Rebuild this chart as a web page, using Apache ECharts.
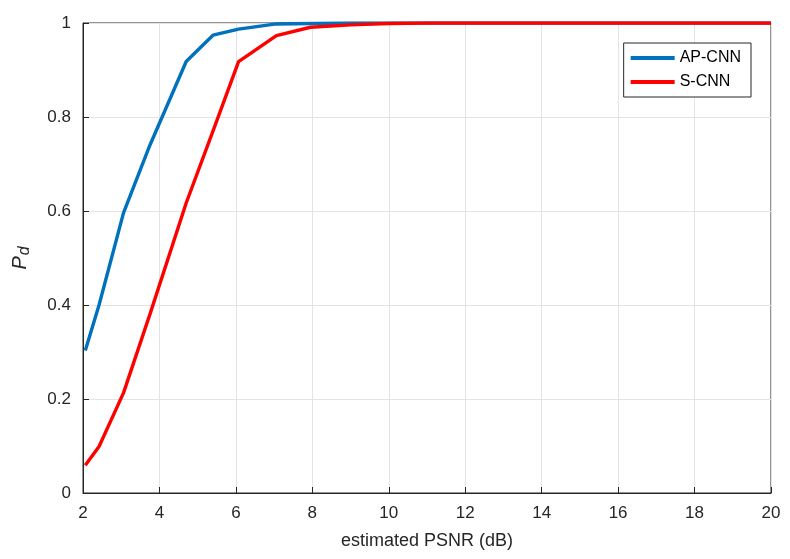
<!DOCTYPE html>
<html>
<head>
<meta charset="utf-8">
<script src="https://cdn.jsdelivr.net/npm/echarts@6/dist/echarts.min.js"></script>
<style>
  html, body { margin: 0; padding: 0; background: #fff; }
  #chart { width: 790px; height: 559px; }
</style>
</head>
<body>
<div id="chart"></div>
<script>
// estimated PSNR (dB) sample points
const psnr = [2.06, 2.42, 3.06, 3.75, 4.7, 5.4, 6.07, 7.06, 7.95, 9, 10, 11, 12, 13, 14, 15, 16, 17, 18, 19, 20]
const apCnn = [0.303, 0.40, 0.596, 0.74, 0.918, 0.974, 0.987, 0.998, 0.999, 1, 1, 1, 1, 1, 1, 1, 1, 1, 1, 1, 1]
const sCnn = [0.059, 0.099, 0.213, 0.38, 0.617, 0.77, 0.918, 0.973, 0.991, 0.996, 0.999, 1, 1, 1, 1, 1, 1, 1, 1, 1, 1]
const xTicks = [2, 4, 6, 8, 10, 12, 14, 16, 18, 20]

const font = 'Liberation Sans, Arial, sans-serif'
const textColor = '#262626'

const chart = echarts.init(document.getElementById('chart'))

const pairs = (ys) => psnr.map((x, i) => [x, ys[i]])

const option = {
  backgroundColor: '#fff',
  animation: false,
  grid: {
    left: 83,
    right: 19,
    top: 23,
    bottom: 66,
    show: true,
    borderColor: '#262626',
    borderWidth: 1
  },
  legend: {
    orient: 'vertical',
    right: 39,
    top: 43,
    itemWidth: 44,
    itemHeight: 4,
    itemGap: 8,
    padding: [7, 10, 7, 7],
    borderColor: '#262626',
    borderWidth: 1,
    backgroundColor: '#fff',
    icon: 'rect',
    textStyle: { fontFamily: font, fontSize: 16, color: '#000' },
    data: ['AP-CNN', 'S-CNN']
  },
  xAxis: {
    type: 'value',
    min: 2,
    max: 20,
    interval: 2,
    name: 'estimated PSNR (dB)',
    nameLocation: 'middle',
    nameGap: 39,
    nameTextStyle: { fontFamily: font, fontSize: 18, color: textColor },
    axisLine: { show: true, onZero: false, lineStyle: { color: '#262626' } },
    axisTick: { show: true, inside: true, length: 6, lineStyle: { color: '#262626' } },
    axisLabel: {
      fontFamily: font, fontSize: 17, color: textColor, margin: 12,
      formatter: (v) => (xTicks.includes(v) ? String(v) : '')
    },
    splitLine: { show: true, lineStyle: { color: '#e3e3e3' } }
  },
  yAxis: {
    type: 'value',
    min: 0,
    max: 1,
    interval: 0.2,
    name: '{p|P}{d|d}',
    nameLocation: 'middle',
    nameRotate: 90,
    nameGap: 50,
    nameTextStyle: {
      rich: {
        p: { fontFamily: font, fontSize: 20, fontStyle: 'italic', color: textColor },
        d: { fontFamily: font, fontSize: 16, fontStyle: 'italic', color: textColor, verticalAlign: 'bottom', padding: [9, 0, 0, 1] }
      }
    },
    axisLine: { show: true, lineStyle: { color: '#262626' } },
    axisTick: { show: true, inside: true, length: 6, lineStyle: { color: '#262626' } },
    axisLabel: { fontFamily: font, fontSize: 17, color: textColor, margin: 12 },
    splitLine: { show: true, lineStyle: { color: '#e3e3e3' } }
  },
  series: [
    {
      name: 'AP-CNN',
      type: 'line',
      data: pairs(apCnn),
      showSymbol: false,
      symbol: 'none',
      color: '#0072BD',
      lineStyle: { width: 3.4, color: '#0072BD' },
      z: 3
    },
    {
      name: 'S-CNN',
      type: 'line',
      data: pairs(sCnn),
      showSymbol: false,
      symbol: 'none',
      color: '#FF0000',
      lineStyle: { width: 3.4, color: '#FF0000' },
      z: 4
    }
  ]
}

chart.setOption(option)
</script>
</body>
</html>
